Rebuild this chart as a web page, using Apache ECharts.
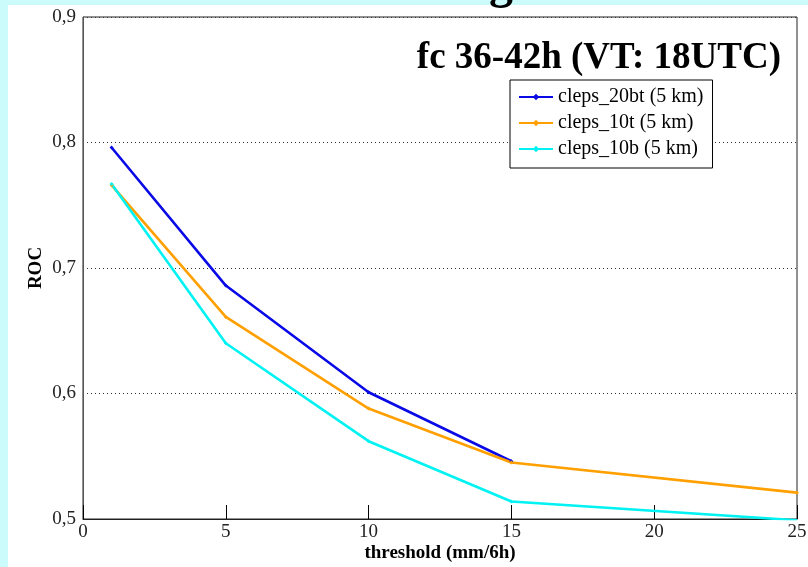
<!DOCTYPE html>
<html>
<head>
<meta charset="utf-8">
<script src="https://cdn.jsdelivr.net/npm/echarts@6/dist/echarts.min.js"></script>
<style>
  html, body { margin: 0; padding: 0; }
  #chart { width: 808px; height: 567px; }
</style>
</head>
<body>
<div id="chart"></div>
<script>
// ROC score against precipitation threshold, forecast range 36-42h
const thresholds = [1, 5, 10, 15, 25];
const cleps20bt = [0.796, 0.686, 0.601, 0.546];
const cleps10t = [0.766, 0.661, 0.588, 0.545, 0.521];
const cleps10b = [0.767, 0.640, 0.562, 0.514, 0.499];
const yTicks = [0.5, 0.6, 0.7, 0.8, 0.9];

const serif = '"Liberation Serif", "DejaVu Serif", serif';

function pairs(values) {
  return values.map((v, i) => [thresholds[i], v]);
}

function makeSeries(name, values, color) {
  return {
    name: name,
    type: 'line',
    data: pairs(values),
    color: color,
    symbol: 'diamond',
    symbolSize: 4,
    clip: true,
    lineStyle: { width: 2.6, color: color },
    itemStyle: { color: color },
    emphasis: { disabled: true }
  };
}

const chart = echarts.init(document.getElementById('chart'), null, { renderer: 'canvas' });

chart.setOption({
  animation: false,
  backgroundColor: '#ccfbfc',
  graphic: [
    {
      type: 'rect',
      z: -100,
      shape: { x: 8, y: 5, width: 800, height: 562 },
      style: { fill: '#ffffff' }
    },
    {
      type: 'text',
      z: 100,
      left: 489,
      top: -38,
      style: {
        text: 'g',
        font: 'bold 48px ' + serif,
        fill: '#000'
      }
    }
  ],
  title: {
    text: 'fc 36-42h (VT: 18UTC)',
    right: 22,
    top: 35,
    textStyle: { fontFamily: serif, fontWeight: 'bold', fontSize: 37, color: '#000' }
  },
  legend: {
    orient: 'vertical',
    left: 510,
    top: 80,
    itemWidth: 34,
    itemHeight: 8,
    itemGap: 6,
    itemTextGap: 8,
    padding: [7, 9, 9, 8],
    backgroundColor: '#fff',
    borderColor: '#000',
    borderWidth: 1,
    textStyle: { fontFamily: serif, fontSize: 20, color: '#000' },
    data: ['cleps_20bt (5 km)', 'cleps_10t (5 km)', 'cleps_10b (5 km)']
  },
  grid: {
    left: 83, right: 11, top: 17, bottom: 48,
    outerBoundsMode: 'none',
    containLabel: false,
    show: true,
    borderColor: '#222',
    borderWidth: 1,
    backgroundColor: 'transparent'
  },
  xAxis: {
    type: 'value',
    min: 0, max: 25, interval: 5,
    name: 'threshold (mm/6h)',
    nameLocation: 'middle',
    nameGap: 25,
    nameMoveOverlap: false,
    nameTextStyle: { fontFamily: serif, fontWeight: 'bold', fontSize: 19, color: '#000' },
    axisLine: { lineStyle: { color: '#222', width: 1 } },
    axisTick: { inside: true, length: 14, lineStyle: { color: '#000' } },
    axisLabel: { fontFamily: serif, fontSize: 19, color: '#222', margin: 4 },
    splitLine: { show: false }
  },
  yAxis: {
    type: 'value',
    min: 0.5, max: 0.9, interval: 0.1,
    name: 'ROC',
    nameLocation: 'middle',
    nameGap: 37,
    nameMoveOverlap: false,
    nameRotate: 90,
    nameTextStyle: { fontFamily: serif, fontWeight: 'bold', fontSize: 19, color: '#000' },
    axisLine: { show: true, lineStyle: { color: '#555', width: 1 } },
    axisTick: { show: false },
    axisLabel: {
      fontFamily: serif, fontSize: 19, color: '#222', margin: 7,
      formatter: v => {
        const t = yTicks.find(k => Math.abs(k - v) < 1e-9);
        return t === undefined ? '' : t.toFixed(1).replace('.', ',');
      }
    },
    splitLine: { show: true, lineStyle: { color: '#333', type: [1, 3], width: 1 } }
  },
  series: [
    makeSeries('cleps_20bt (5 km)', cleps20bt, '#0a0ae6'),
    makeSeries('cleps_10t (5 km)', cleps10t, '#ffa000'),
    makeSeries('cleps_10b (5 km)', cleps10b, '#00f2f2')
  ]
});
</script>
</body>
</html>
